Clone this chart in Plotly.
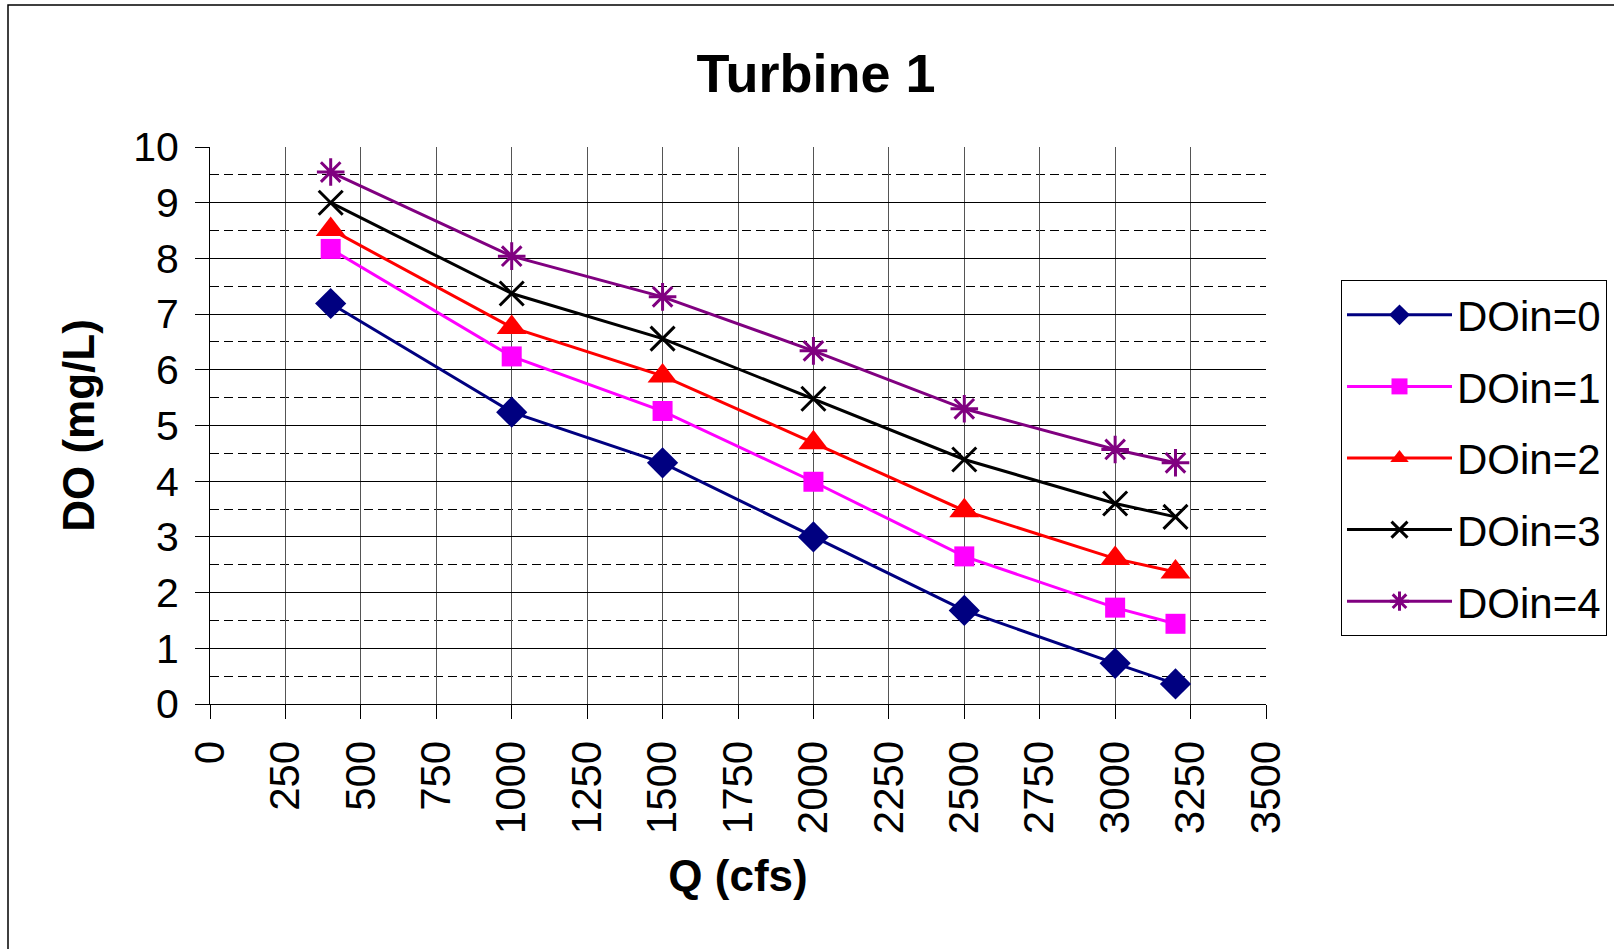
import plotly.graph_objects as go

# Flow rates (cfs) and downstream dissolved oxygen (mg/L) for each inlet DO level
q_cfs = [400, 1000, 1500, 2000, 2500, 3000, 3200]
do_in_0 = [7.19, 5.24, 4.33, 3.00, 1.68, 0.73, 0.36]
do_in_1 = [8.17, 6.24, 5.26, 3.99, 2.65, 1.73, 1.44]
do_in_2 = [8.52, 6.76, 5.89, 4.69, 3.47, 2.61, 2.37]
do_in_3 = [9.00, 7.37, 6.56, 5.48, 4.39, 3.60, 3.36]
do_in_4 = [9.55, 8.04, 7.31, 6.34, 5.30, 4.57, 4.33]
series_names = ["DOin=0", "DOin=1", "DOin=2", "DOin=3", "DOin=4"]

W, H = 1614, 949
PLOT_L, PLOT_R, PLOT_T, PLOT_B = 210, 1266, 147, 704
FONT = "Arial, Liberation Sans, sans-serif"

styles = [
    dict(color="#000080", symbol="diamond", size=24, open=False),
    dict(color="#FF00FF", symbol="square", size=20, open=False),
    dict(color="#FF0000", symbol="triangle-up", size=26, open=False),
    dict(color="#000000", symbol="x-thin-open", size=24, open=True),
    dict(color="#800080", symbol="asterisk-open", size=23, open=True),
]

fig = go.Figure()
for i, (name, ys, st) in enumerate(zip(series_names,
                                       [do_in_0, do_in_1, do_in_2, do_in_3, do_in_4],
                                       styles)):
    marker = dict(symbol=st["symbol"], size=st["size"], color=st["color"])
    marker["line"] = dict(color=st["color"], width=3 if st["open"] else 0)
    fig.add_trace(go.Scatter(
        x=q_cfs, y=ys, name=name, mode="lines+markers",
        line=dict(color=st["color"], width=3),
        marker=marker, legendgroup=name,
    ))

pw = PLOT_R - PLOT_L
ph = PLOT_B - PLOT_T


def px_x(px):
    return (px - PLOT_L) / pw


def px_y(py):
    return (PLOT_B - py) / ph


fig.update_layout(
    width=W, height=H,
    margin=dict(l=PLOT_L, r=W - PLOT_R, t=PLOT_T, b=H - PLOT_B, pad=0,
                autoexpand=False),
    paper_bgcolor="white", plot_bgcolor="white",
    font=dict(family=FONT, color="black"),
    title=dict(text="<b>Turbine 1</b>", font=dict(size=54, family=FONT),
               x=816 / W, xref="container", xanchor="center",
               y=1 - 73 / H, yref="container", yanchor="middle"),
    showlegend=True,
    legend=dict(
        x=px_x(1341), y=px_y(280), xanchor="left", yanchor="top",
        bordercolor="black", borderwidth=1, bgcolor="white",
        font=dict(size=42, family=FONT), itemwidth=105,
        tracegroupgap=14, traceorder="grouped",
    ),
    xaxis=dict(
        range=[0, 3500], dtick=250, tick0=0, tickangle=-90,
        tickfont=dict(size=42, family=FONT),
        ticks="outside", ticklen=14, tickcolor="black", tickwidth=1,
        ticklabelstandoff=5,
        showline=True, linecolor="black", linewidth=1,
        showgrid=True, gridcolor="#555555", gridwidth=1,
        zeroline=False,
        title=dict(text="<b>Q (cfs)</b>", font=dict(size=44, family=FONT), standoff=26),
    ),
    yaxis=dict(
        range=[0, 10], dtick=1, tick0=0,
        tickfont=dict(size=41, family=FONT),
        ticks="outside", ticklen=14, tickcolor="black", tickwidth=1,
        ticklabelstandoff=8,
        showline=True, linecolor="black", linewidth=1,
        showgrid=True, gridcolor="black", gridwidth=1,
        zeroline=False,
        minor=dict(dtick=0.5, showgrid=True, gridcolor="black", gridwidth=1,
                   griddash="9px,5px", ticks=""),
        title=dict(text="<b>DO (mg/L)</b>", font=dict(size=44, family=FONT), standoff=24),
    ),
    shapes=[
        # outer chart frame
        dict(type="rect", xref="paper", yref="paper",
             x0=px_x(8), x1=px_x(W + 20), y0=px_y(H + 20), y1=px_y(5),
             line=dict(color="black", width=1.5), fillcolor="rgba(0,0,0,0)",
             layer="below"),
    ],
)

fig.write_html("out.html")
